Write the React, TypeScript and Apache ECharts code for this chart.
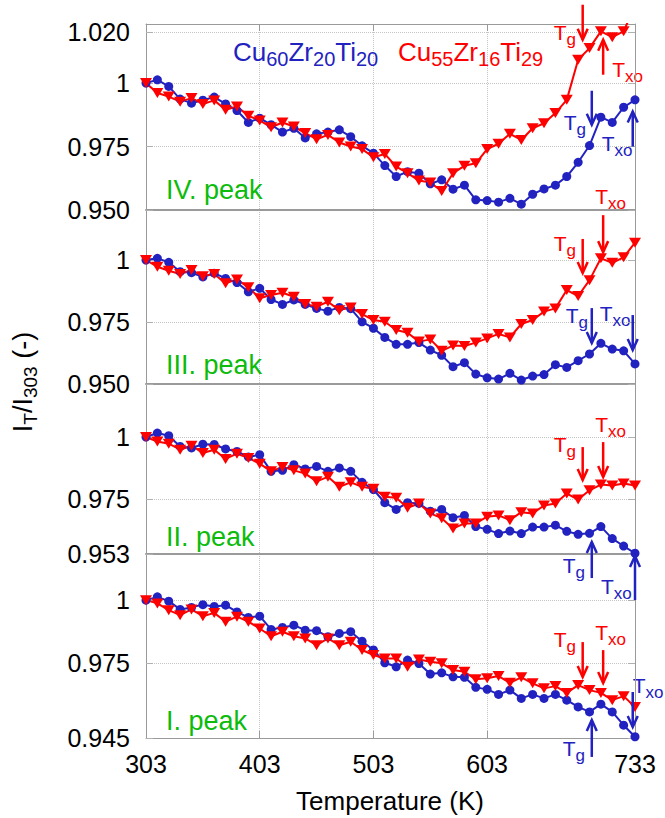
import React, { useEffect, useRef } from 'react';
import * as echarts from 'echarts';

// Temperature grid (K) shared by every panel
const TEMPS = [
  303, 313, 323, 333, 343, 353, 363, 373, 383, 393, 403, 413, 423, 433, 443,
  453, 463, 473, 483, 493, 503, 513, 523, 533, 543, 553, 563, 573, 583, 593,
  603, 613, 623, 633, 643, 653, 663, 673, 683, 693, 703, 713, 723, 733,
];

// Normalised intensity I_T / I_303, panels ordered top to bottom (IV, III, II, I)
const CU60_IV = [
  1.0, 1.0013, 0.9987, 0.9937, 0.9921, 0.9933, 0.9945, 0.9918, 0.9892, 0.9845,
  0.9862, 0.9836, 0.9807, 0.9822, 0.9784, 0.98, 0.9807, 0.9816, 0.9789, 0.9753,
  0.9724, 0.9675, 0.9632, 0.9651, 0.9645, 0.9603, 0.9619, 0.9582, 0.9598, 0.954,
  0.9537, 0.9531, 0.9546, 0.9523, 0.9562, 0.9583, 0.9598, 0.9632, 0.9688, 0.9754,
  0.9866, 0.9845, 0.9905, 0.9934,
];
const CU55_IV = [
  1.0, 0.9961, 0.9947, 0.9927, 0.9941, 0.9918, 0.9932, 0.9895, 0.9908, 0.9871,
  0.9853, 0.9826, 0.9845, 0.9829, 0.9803, 0.9779, 0.9796, 0.9766, 0.975, 0.974,
  0.9708, 0.9721, 0.9671, 0.9645, 0.9616, 0.9608, 0.9575, 0.9645, 0.9674, 0.9684,
  0.974, 0.9761, 0.98, 0.9776, 0.9822, 0.9842, 0.9882, 0.9934, 1.0092, 1.0138,
  1.0204, 1.0181, 1.0204, 1.0305,
];
const CU60_III = [
  1.0, 1.0007, 0.9991, 0.9953, 0.9949, 0.9932, 0.9947, 0.9926, 0.9909, 0.9872,
  0.9886, 0.9841, 0.9821, 0.9839, 0.9821, 0.9805, 0.9794, 0.9809, 0.9804, 0.9751,
  0.9725, 0.9688, 0.966, 0.966, 0.9667, 0.9637, 0.9616, 0.957, 0.9586, 0.954,
  0.9525, 0.952, 0.9543, 0.9516, 0.9532, 0.9538, 0.9578, 0.9567, 0.9594, 0.9621,
  0.9664, 0.9641, 0.9634, 0.9581,
];
const CU55_III = [
  1.0, 0.9973, 0.9957, 0.9944, 0.996, 0.9935, 0.9944, 0.9906, 0.9922, 0.989,
  0.9846, 0.9859, 0.9868, 0.9852, 0.9823, 0.9812, 0.9832, 0.9798, 0.9809, 0.9782,
  0.9758, 0.9751, 0.9718, 0.9707, 0.9671, 0.968, 0.9634, 0.9655, 0.9653, 0.9667,
  0.9684, 0.9702, 0.9688, 0.9742, 0.9758, 0.9792, 0.9805, 0.9879, 0.9855, 0.9919,
  1.0007, 0.9989, 1.0011, 1.007,
];
const CU60_II = [
  1.0, 1.0016, 1.0005, 0.9962, 0.9956, 0.9971, 0.997, 0.9952, 0.9942, 0.992,
  0.9929, 0.9862, 0.9866, 0.9889, 0.9872, 0.9882, 0.9862, 0.9876, 0.9862, 0.9818,
  0.9789, 0.9736, 0.9709, 0.9736, 0.9733, 0.9702, 0.9709, 0.9676, 0.9685, 0.964,
  0.9629, 0.9612, 0.9622, 0.9612, 0.9638, 0.9638, 0.9646, 0.9621, 0.9609, 0.9613,
  0.964, 0.9592, 0.9562, 0.9533,
];
const CU55_II = [
  1.0, 0.9982, 0.9973, 0.9949, 0.9965, 0.9936, 0.9949, 0.9912, 0.9933, 0.9916,
  0.9893, 0.9862, 0.988, 0.9866, 0.9853, 0.9822, 0.984, 0.98, 0.9818, 0.98,
  0.9792, 0.976, 0.9756, 0.9716, 0.9733, 0.9693, 0.9674, 0.9632, 0.9653, 0.9653,
  0.968, 0.9685, 0.9666, 0.9698, 0.9693, 0.9725, 0.9733, 0.9773, 0.9749, 0.9786,
  0.9809, 0.9805, 0.9813, 0.9805,
];
const CU60_I = [
  1.0, 1.0013, 0.9996, 0.9963, 0.9971, 0.9982, 0.9975, 0.998, 0.9953, 0.9931,
  0.9936, 0.9883, 0.9891, 0.99, 0.988, 0.9878, 0.9854, 0.9867, 0.9874, 0.9836,
  0.9801, 0.975, 0.9734, 0.9761, 0.9747, 0.9705, 0.971, 0.9694, 0.9692, 0.9652,
  0.9644, 0.9624, 0.9641, 0.9608, 0.9624, 0.9608, 0.9624, 0.9601, 0.9574, 0.9554,
  0.9585, 0.9554, 0.9501, 0.9455,
];
const CU55_I = [
  1.0, 0.9987, 0.996, 0.994, 0.9963, 0.9936, 0.9949, 0.9914, 0.9934, 0.9914,
  0.9887, 0.9856, 0.9874, 0.9856, 0.9847, 0.982, 0.9847, 0.982, 0.9834, 0.9801,
  0.9781, 0.9767, 0.9767, 0.9734, 0.9763, 0.9754, 0.9748, 0.9721, 0.9714, 0.9684,
  0.9688, 0.9697, 0.967, 0.9692, 0.9668, 0.9648, 0.9657, 0.963, 0.9661, 0.9641,
  0.963, 0.9601, 0.9617, 0.9574,
];

const CU60 = [CU60_IV, CU60_III, CU60_II, CU60_I];
const CU55 = [CU55_IV, CU55_III, CU55_II, CU55_I];

const PANEL_NAMES = ['IV. peak', 'III. peak', 'II. peak', 'I. peak'];
const Y_MIN = [0.95, 0.95, 0.953, 0.945];
const Y_MAX = [1.0233, 1.0202, 1.0213, 1.0184];
const Y_TICKS = [
  [0.95, 0.975, 1, 1.02],
  [0.95, 0.975, 1],
  [0.953, 0.975, 1],
  [0.945, 0.975, 1],
];
const X_TICKS = [303, 403, 503, 603, 733];

// Glass transition (Tg) and crystallisation onset (Txo) markers:
// alloy 0 = Cu60Zr20Ti20, alloy 1 = Cu55Zr16Ti29; t / v locate the arrow tip
const MARKERS = [
  { panel: 0, alloy: 1, sub: 'g', t: 687, v: 1.0171, dir: 'down', len: 35, dx: -29, dy: -7 },
  { panel: 0, alloy: 1, sub: 'xo', t: 705, v: 1.0171, dir: 'up', len: 35, dx: 9, dy: 30 },
  { panel: 0, alloy: 0, sub: 'g', t: 695, v: 0.9836, dir: 'down', len: 34, dx: -28, dy: -2 },
  { panel: 0, alloy: 0, sub: 'xo', t: 731, v: 0.9888, dir: 'up', len: 35, dx: -31, dy: 32 },
  { panel: 1, alloy: 1, sub: 'g', t: 687, v: 0.9948, dir: 'down', len: 34, dx: -29, dy: -29 },
  { panel: 1, alloy: 1, sub: 'xo', t: 705, v: 1.0032, dir: 'down', len: 37, dx: -8, dy: -56 },
  { panel: 1, alloy: 0, sub: 'g', t: 695, v: 0.9665, dir: 'down', len: 35, dx: -26, dy: -28 },
  { panel: 1, alloy: 0, sub: 'xo', t: 731, v: 0.9637, dir: 'down', len: 35, dx: -33, dy: -37 },
  { panel: 2, alloy: 1, sub: 'g', t: 687, v: 0.9827, dir: 'down', len: 33, dx: -29, dy: -36 },
  { panel: 2, alloy: 1, sub: 'xo', t: 705, v: 0.9839, dir: 'down', len: 35, dx: -8, dy: -53 },
  { panel: 2, alloy: 0, sub: 'g', t: 695, v: 0.9578, dir: 'up', len: 36, dx: -29, dy: 23 },
  { panel: 2, alloy: 0, sub: 'xo', t: 733, v: 0.9522, dir: 'up', len: 44, dx: -34, dy: 31 },
  { panel: 3, alloy: 1, sub: 'g', t: 687, v: 0.9693, dir: 'down', len: 35, dx: -29, dy: -38 },
  { panel: 3, alloy: 1, sub: 'xo', t: 705, v: 0.9669, dir: 'down', len: 33, dx: -8, dy: -51 },
  { panel: 3, alloy: 0, sub: 'xo', t: 731, v: 0.9494, dir: 'down', len: 35, dx: 0, dy: -41 },
  { panel: 3, alloy: 0, sub: 'g', t: 695, v: 0.9522, dir: 'up', len: 37, dx: -29, dy: 29 },
];

const FONT = '"Liberation Sans", Arial, Helvetica, sans-serif';
const BLUE = '#2222C0';
const RED = '#FF0000';
const GREEN = '#0CBB0C';
const ALLOY_COLORS = [BLUE, RED];
const FRAME = '#9a9a9a';
const GRID_TOPS = [24, 210, 384, 554];
const GRID_HEIGHTS = [186, 174, 170, 184];

type Part = [string, boolean];

const measureCtx = document.createElement('canvas').getContext('2d') as CanvasRenderingContext2D;
function measure(text: string, size: number) {
  measureCtx.font = `${size}px ${FONT}`;
  return measureCtx.measureText(text).width;
}

// Text with subscripts, laid out piece by piece in a group
function subscriptText(
  parts: Part[], x: number, y: number, color: string,
  main: number, sub: number, drop: number, center = false, rotation = 0,
) {
  const widths = parts.map(([s, isSub]) => measure(s, isSub ? sub : main));
  const total = widths.reduce((a, b) => a + b, 0);
  let cx = center ? -total / 2 : 0;
  const children = parts.map(([s, isSub], i) => {
    const el = {
      type: 'text',
      x: cx,
      y: isSub ? drop : 0,
      style: {
        text: s,
        fill: color,
        fontSize: isSub ? sub : main,
        fontFamily: FONT,
        align: 'left',
        verticalAlign: 'middle',
      },
    };
    cx += widths[i];
    return el;
  });
  return { type: 'group', x, y, rotation, children };
}

export default function App() {
  const ref = useRef<HTMLDivElement>(null);

  useEffect(() => {
    const chart = echarts.init(ref.current as HTMLDivElement, null, { renderer: 'svg' });

    const grids = GRID_TOPS.map((top, p) => ({ left: 146, right: 30, top, height: GRID_HEIGHTS[p] }));

    const xAxes: any[] = GRID_TOPS.map((_, p) => ({
      type: 'value',
      gridIndex: p,
      min: 303,
      max: 733,
      position: 'bottom',
      axisLine: { show: true, onZero: false, lineStyle: { color: FRAME, width: p === 3 ? 1 : 2 } },
      axisTick: { show: p === 3, inside: true, length: 7, customValues: X_TICKS, lineStyle: { color: FRAME } },
      axisLabel: {
        show: p === 3, customValues: X_TICKS, color: '#000', fontSize: 25, fontFamily: FONT, margin: 13,
      },
      splitLine: { show: true, lineStyle: { type: 'dotted', color: '#c4c4c4', width: 1 } },
    }));
    xAxes.push({
      type: 'value',
      gridIndex: 0,
      min: 303,
      max: 733,
      position: 'top',
      axisLine: { show: true, onZero: false, lineStyle: { color: FRAME, width: 1 } },
      axisTick: { show: true, inside: true, length: 7, customValues: X_TICKS, lineStyle: { color: FRAME } },
      axisLabel: { show: false, customValues: X_TICKS },
      splitLine: { show: false },
    });

    const yAxes: any[] = [];
    GRID_TOPS.forEach((_, p) => {
      yAxes.push({
        type: 'value',
        gridIndex: p,
        min: Y_MIN[p],
        max: Y_MAX[p],
        position: 'left',
        axisLine: { show: true, onZero: false, lineStyle: { color: FRAME, width: 1 } },
        axisTick: { show: true, inside: true, length: 7, customValues: Y_TICKS[p], lineStyle: { color: '#b0b0b0' } },
        axisLabel: {
          customValues: Y_TICKS[p],
          color: '#000',
          fontSize: 25,
          fontFamily: FONT,
          margin: 16,
          formatter: (v: number) => (Math.abs(v - 1) < 1e-9 ? '1' : v.toFixed(3)),
        },
        splitLine: { show: true, lineStyle: { type: 'dotted', color: '#c4c4c4', width: 1 } },
      });
      yAxes.push({
        type: 'value',
        gridIndex: p,
        min: Y_MIN[p],
        max: Y_MAX[p],
        position: 'right',
        axisLine: { show: true, onZero: false, lineStyle: { color: FRAME, width: 1 } },
        axisTick: { show: true, inside: true, length: 7, customValues: Y_TICKS[p], lineStyle: { color: '#b0b0b0' } },
        axisLabel: { show: false, customValues: Y_TICKS[p] },
        splitLine: { show: false },
      });
    });

    const series: any[] = [];
    GRID_TOPS.forEach((_, p) => {
      series.push({
        type: 'line',
        name: 'Cu60Zr20Ti20',
        xAxisIndex: p,
        yAxisIndex: 2 * p,
        data: TEMPS.map((t, i) => [t, CU60[p][i]]),
        symbol: 'circle',
        symbolSize: 9,
        showAllSymbol: true,
        clip: true,
        itemStyle: { color: BLUE },
        lineStyle: { color: BLUE, width: 2 },
      });
      series.push({
        type: 'line',
        name: 'Cu55Zr16Ti29',
        xAxisIndex: p,
        yAxisIndex: 2 * p,
        data: TEMPS.map((t, i) => [t, CU55[p][i]]),
        symbol: 'triangle',
        symbolRotate: 180,
        symbolSize: [12, 10],
        showAllSymbol: true,
        clip: true,
        itemStyle: { color: RED },
        lineStyle: { color: RED, width: 2 },
      });
    });

    chart.setOption({
      animation: false,
      backgroundColor: '#ffffff',
      grid: grids,
      xAxis: xAxes,
      yAxis: yAxes,
      series,
    });

    const graphics: any[] = [];

    // Tg / Txo arrows with their labels
    MARKERS.forEach((m) => {
      const color = ALLOY_COLORS[m.alloy];
      const [x, tipY] = chart.convertToPixel({ seriesIndex: 2 * m.panel }, [m.t, m.v]) as number[];
      const sign = m.dir === 'down' ? -1 : 1;
      const tailY = tipY + sign * m.len;
      graphics.push({
        type: 'line',
        shape: { x1: x, y1: tailY, x2: x, y2: tipY },
        style: { stroke: color, lineWidth: 2.5 },
        z: 10,
      });
      graphics.push({
        type: 'polyline',
        shape: { points: [[x - 5, tipY + sign * 11], [x, tipY], [x + 5, tipY + sign * 11]] },
        style: { stroke: color, lineWidth: 2.5, fill: null },
        z: 10,
      });
      graphics.push({
        ...subscriptText([['T', false], [m.sub, true]], x + m.dx, tipY + m.dy, color, 21, 17, 7),
        z: 10,
      });
    });

    // Alloy names
    graphics.push(subscriptText(
      [['Cu', false], ['60', true], ['Zr', false], ['20', true], ['Ti', false], ['20', true]],
      233, 52, BLUE, 26, 20, 7,
    ));
    graphics.push(subscriptText(
      [['Cu', false], ['55', true], ['Zr', false], ['16', true], ['Ti', false], ['29', true]],
      398, 52, RED, 26, 20, 7,
    ));

    // Panel captions
    const captionY = [190, 365, 537, 721];
    PANEL_NAMES.forEach((name, p) => {
      graphics.push({
        type: 'text',
        x: 166,
        y: captionY[p],
        style: { text: name, fill: GREEN, fontSize: 27, fontFamily: FONT, align: 'left', verticalAlign: 'middle' },
      });
    });

    // Axis titles
    graphics.push(subscriptText(
      [['I', false], ['T', true], ['/I', false], ['303', true], [' (-)', false]],
      23, 382, '#000', 27, 19, 7, true, Math.PI / 2,
    ));
    graphics.push({
      type: 'text',
      x: 390,
      y: 801,
      style: { text: 'Temperature (K)', fill: '#000', fontSize: 26, fontFamily: FONT, align: 'center', verticalAlign: 'middle' },
    });

    chart.setOption({ graphic: { elements: graphics } });

    return () => {
      chart.dispose();
    };
  }, []);

  return (
    <div
      ref={ref}
      style={{ position: 'absolute', left: 0, top: 0, width: 665, height: 818, background: '#fff' }}
    />
  );
}
